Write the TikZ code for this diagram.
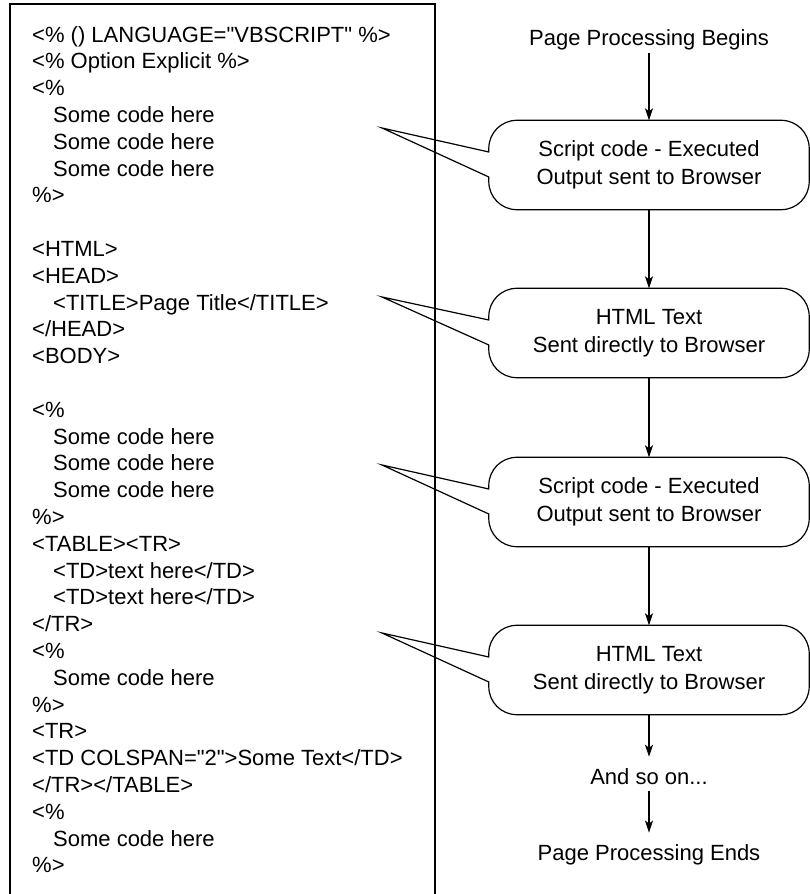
\documentclass[tikz,border=0pt]{standalone}
\usepackage{fontspec}
\setmainfont{Liberation Sans}
\usetikzlibrary{arrows.meta,calc,positioning}

\newcommand{\codeind}{\hspace*{21pt}}
\newcommand{\qt}{\textquotedbl}

% outline of a bubble node #1, with its tail pointing at #2
\newcommand{\bubbleline}[2]{%
  \draw[frame] ($(#1.west)+(0,13)$) -- ($(#1.north west)+(0,-28)$)
    arc[start angle=180, end angle=90, radius=28pt] -- ($(#1.north east)+(-28,0)$)
    arc[start angle=90, end angle=0, radius=28pt] -- ($(#1.south east)+(0,28)$)
    arc[start angle=0, end angle=-90, radius=28pt] -- ($(#1.south west)+(28,0)$)
    arc[start angle=270, end angle=180, radius=28pt] -- ($(#1.west)+(0,-12)$)
    -- (#2) -- cycle;}

\tikzset{
  frame/.style={line width=1.2pt},
  txt/.style={font=\fontsize{22}{26.8}\selectfont, inner sep=3pt},
  bubble/.style={align=center, minimum width=320pt, minimum height=89pt,
    inner sep=0pt, font=\fontsize{22}{28.5}\selectfont},
  flow/.style={frame, -{Stealth[length=12pt, width=8pt, inset=3pt]}},
}

\begin{document}
\begin{tikzpicture}[x=1pt, y=1pt]
  \useasboundingbox (0,0) rectangle (810,894);

  % the page source
  \draw[frame] (10,-3) -- (10,890) -- (435,890) -- (435,-3);
  \node[txt, inner sep=0pt, align=left, anchor=north west] (code) at (32,868) {%
    <\% () LANGUAGE=\qt VBSCRIPT\qt{} \%>\\
    <\% Option Explicit \%>\\
    <\%\\
    \codeind Some code here\\
    \codeind Some code here\\
    \codeind Some code here\\
    \%>\\
    \mbox{}\\
    <HTML>\\
    <HEAD>\\
    \codeind <TITLE>Page Title</TITLE>\\
    </HEAD>\\
    <BODY>\\
    \mbox{}\\
    <\%\\
    \codeind Some code here\\
    \codeind Some code here\\
    \codeind Some code here\\
    \%>\\
    <TABLE><TR>\\
    \codeind <TD>text here</TD>\\
    \codeind <TD>text here</TD>\\
    </TR>\\
    <\%\\
    \codeind Some code here\\
    \%>\\
    <TR>\\
    <TD COLSPAN=\qt 2\qt>Some Text</TD>\\
    </TR></TABLE>\\
    <\%\\
    \codeind Some code here\\
    \%>};

  % processing steps
  \node[txt] (start) at (649,854) {Page Processing Begins};
  \node[bubble] (scriptA) at (649,729) {Script code - Executed\\Output sent to Browser};
  \node[bubble] (htmlA) at (649,561) {HTML Text\\Sent directly to Browser};
  \node[bubble] (scriptB) at (649,392) {Script code - Executed\\Output sent to Browser};
  \node[bubble] (htmlB) at (649,224) {HTML Text\\Sent directly to Browser};
  \node[txt] (more) at (649,117) {And so on...};
  \node[txt] (finish) at (649,39) {Page Processing Ends};

  \coordinate (tipA) at (382,766);
  \coordinate (tipB) at (382,597);
  \coordinate (tipC) at (382,429);
  \coordinate (tipD) at (382,261);

  \bubbleline{scriptA}{tipA}
  \bubbleline{htmlA}{tipB}
  \bubbleline{scriptB}{tipC}
  \bubbleline{htmlB}{tipD}

  \draw[flow] (start) -- (scriptA);
  \draw[flow] (scriptA) -- (htmlA);
  \draw[flow] (htmlA) -- (scriptB);
  \draw[flow] (scriptB) -- (htmlB);
  \draw[flow, shorten >=9pt] (htmlB) -- (more);
  \draw[flow, shorten >=9pt, shorten <=3pt] (more) -- (finish);
\end{tikzpicture}
\end{document}
